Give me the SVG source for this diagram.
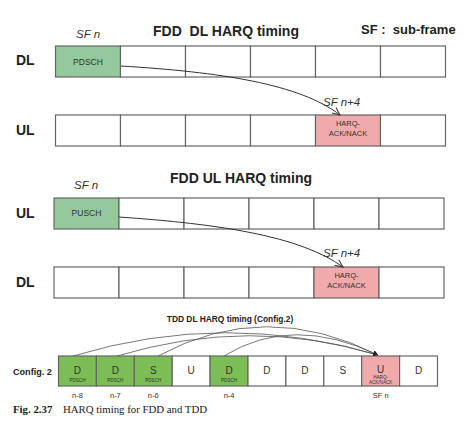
<svg xmlns="http://www.w3.org/2000/svg" width="468" height="438" viewBox="0 0 468 438">
<defs>
<style>
.cell{fill:#ffffff;stroke:#666;stroke-width:1.2}
.g1{fill:#94c99b;stroke:#666;stroke-width:1.2}
.g2{fill:#7cbd55;stroke:#666;stroke-width:1.2}
.pk{fill:#f0aaab;stroke:#666;stroke-width:1.2}
.lbl{font-family:"Liberation Sans",Arial,sans-serif;font-weight:bold;font-size:14px;fill:#222}
.ttl{font-family:"Liberation Sans",Arial,sans-serif;font-weight:bold;font-size:14px;fill:#222;white-space:pre}
.sf{font-family:"Liberation Sans",Arial,sans-serif;font-style:italic;font-size:11.5px;fill:#333}
.ct{font-family:"Liberation Sans",Arial,sans-serif;font-size:8.5px;fill:#333;text-anchor:middle}
.hq{font-family:"Liberation Sans",Arial,sans-serif;font-size:7.5px;fill:#333;text-anchor:middle}
.cl{font-family:"Liberation Sans",Arial,sans-serif;font-size:10px;fill:#333;text-anchor:middle}
.tiny{font-family:"Liberation Sans",Arial,sans-serif;font-size:4.6px;fill:#333;text-anchor:middle}
.nl{font-family:"Liberation Sans",Arial,sans-serif;font-size:7.5px;fill:#333;text-anchor:middle}
.conn{fill:none;stroke:#333;stroke-width:1}
.conn2{fill:none;stroke:#555;stroke-width:0.8}
.cap{font-family:"Liberation Serif","Times New Roman",serif;font-size:10.8px;fill:#222}
</style>
<marker id="ah" markerWidth="9" markerHeight="8" refX="8" refY="4" orient="auto" markerUnits="userSpaceOnUse">
<path d="M0,0.5 L8,4 L0,7.5" fill="none" stroke="#333" stroke-width="1"/>
</marker>
<marker id="ah2" markerWidth="6" markerHeight="5" refX="5" refY="2.5" orient="auto" markerUnits="userSpaceOnUse">
<path d="M0,0 L5,2.5 L0,5 Z" fill="#222"/>
</marker>
</defs>
<rect width="468" height="438" fill="#ffffff"/>

<!-- FDD DL section -->
<text class="ttl" x="153" y="35.5" xml:space="preserve">FDD  DL HARQ timing</text>
<text class="ttl" x="361" y="34" style="font-size:13px" xml:space="preserve">SF :  sub-frame</text>
<text class="sf" x="76" y="37.5">SF n</text>
<text class="lbl" x="16" y="65">DL</text>
<text class="lbl" x="16" y="135">UL</text>

<g id="fdd-dl-row1">
<g id="dl1-c0"><rect class="g1" x="55.5" y="46" width="65" height="31"/><text class="ct" x="88" y="65.3">PDSCH</text></g>
<g id="dl1-c1"><rect class="cell" x="120.5" y="46" width="65" height="31"/></g>
<g id="dl1-c2"><rect class="cell" x="185.5" y="46" width="65" height="31"/></g>
<g id="dl1-c3"><rect class="cell" x="250.5" y="46" width="65" height="31"/></g>
<g id="dl1-c4"><rect class="cell" x="315.5" y="46" width="65" height="31"/></g>
<g id="dl1-c5"><rect class="cell" x="380.5" y="46" width="65" height="31"/></g>
</g>
<g id="fdd-dl-row2">
<g id="ul1-c0"><rect class="cell" x="55.5" y="115" width="65" height="31"/></g>
<g id="ul1-c1"><rect class="cell" x="120.5" y="115" width="65" height="31"/></g>
<g id="ul1-c2"><rect class="cell" x="185.5" y="115" width="65" height="31"/></g>
<g id="ul1-c3"><rect class="cell" x="250.5" y="115" width="65" height="31"/></g>
<g id="ul1-c4"><rect class="pk" x="315.5" y="115" width="65" height="31"/><text class="hq" x="348" y="126">HARQ-</text><text class="hq" x="348" y="136">ACK/NACK</text></g>
<g id="ul1-c5"><rect class="cell" x="380.5" y="115" width="65" height="31"/></g>
</g>
<text class="sf" x="323" y="105.5">SF n+4</text>

<!-- FDD UL section -->
<text class="ttl" x="170" y="182.5">FDD UL HARQ timing</text>
<text class="sf" x="74" y="189">SF n</text>
<text class="lbl" x="16" y="218">UL</text>
<text class="lbl" x="16" y="287">DL</text>

<g id="fdd-ul-row1">
<g id="ul2-c0"><rect class="g1" x="54" y="198" width="65" height="31"/><text class="ct" x="86.5" y="216.3">PUSCH</text></g>
<g id="ul2-c1"><rect class="cell" x="119" y="198" width="65" height="31"/></g>
<g id="ul2-c2"><rect class="cell" x="184" y="198" width="65" height="31"/></g>
<g id="ul2-c3"><rect class="cell" x="249" y="198" width="65" height="31"/></g>
<g id="ul2-c4"><rect class="cell" x="314" y="198" width="65" height="31"/></g>
<g id="ul2-c5"><rect class="cell" x="379" y="198" width="65" height="31"/></g>
</g>
<g id="fdd-ul-row2">
<g id="dl2-c0"><rect class="cell" x="54" y="267" width="65" height="31"/></g>
<g id="dl2-c1"><rect class="cell" x="119" y="267" width="65" height="31"/></g>
<g id="dl2-c2"><rect class="cell" x="184" y="267" width="65" height="31"/></g>
<g id="dl2-c3"><rect class="cell" x="249" y="267" width="65" height="31"/></g>
<g id="dl2-c4"><rect class="pk" x="314" y="267" width="65" height="31"/><text class="hq" x="346.5" y="278">HARQ-</text><text class="hq" x="346.5" y="288">ACK/NACK</text></g>
<g id="dl2-c5"><rect class="cell" x="379" y="267" width="65" height="31"/></g>
</g>
<text class="sf" x="323" y="257">SF n+4</text>

<!-- TDD section -->
<text class="ttl" x="230" y="322" style="font-size:8.4px" text-anchor="middle">TDD DL HARQ timing (Config.2)</text>
<text class="lbl" x="13" y="374.5" style="font-size:9.1px">Config. 2</text>

<g id="tdd-row">
<g id="t0"><rect class="g2" x="58.5" y="356" width="37.9" height="30"/><text class="cl" x="77.45" y="374">D</text><text class="tiny" x="77.45" y="382">PDSCH</text></g>
<g id="t1"><rect class="g2" x="96.4" y="356" width="37.9" height="30"/><text class="cl" x="115.35" y="374">D</text><text class="tiny" x="115.35" y="382">PDSCH</text></g>
<g id="t2"><rect class="g2" x="134.3" y="356" width="37.9" height="30"/><text class="cl" x="153.25" y="374">S</text><text class="tiny" x="153.25" y="382">PDSCH</text></g>
<g id="t3"><rect class="cell" x="172.2" y="356" width="37.9" height="30"/><text class="cl" x="191.15" y="374">U</text></g>
<g id="t4"><rect class="g2" x="210.1" y="356" width="37.9" height="30"/><text class="cl" x="229.05" y="374">D</text><text class="tiny" x="229.05" y="382">PDSCH</text></g>
<g id="t5"><rect class="cell" x="248" y="356" width="37.9" height="30"/><text class="cl" x="266.95" y="374">D</text></g>
<g id="t6"><rect class="cell" x="285.9" y="356" width="37.9" height="30"/><text class="cl" x="304.85" y="374">D</text></g>
<g id="t7"><rect class="cell" x="323.8" y="356" width="37.9" height="30"/><text class="cl" x="342.75" y="374">S</text></g>
<g id="t8"><rect class="pk" x="361.7" y="356" width="37.9" height="30"/><text class="cl" x="380.65" y="373">U</text><text class="tiny" x="380.65" y="378.5">HARQ-</text><text class="tiny" x="380.65" y="384">ACK/NACK</text></g>
<g id="t9"><rect class="cell" x="399.6" y="356" width="37.9" height="30"/><text class="cl" x="418.55" y="374">D</text></g>
</g>
<text class="nl" x="77.45" y="398">n-8</text>
<text class="nl" x="115.35" y="398">n-7</text>
<text class="nl" x="153.25" y="398">n-6</text>
<text class="nl" x="229.05" y="398">n-4</text>
<text class="nl" x="380.65" y="398">SF n</text>

<!-- connectors -->
<g id="connectors">
<path class="conn" d="M121,66 C220,72 300,84 340,115" marker-end="url(#ah)"/>
<path class="conn" d="M119,217 C220,224 300,236 343,267" marker-end="url(#ah)"/>
<path class="conn2" d="M73,356 Q225,310 378,355" marker-end="url(#ah2)"/>
<path class="conn2" d="M117,356 Q250,316 378,355" marker-end="url(#ah2)"/>
<path class="conn2" d="M158,356 Q265,298 378,355" marker-end="url(#ah2)"/>
<path class="conn2" d="M224,356 Q292,314 378,355" marker-end="url(#ah2)"/>
</g>

<text class="cap" x="13" y="412.5"><tspan font-weight="bold">Fig. 2.37</tspan><tspan x="63">HARQ timing for FDD and TDD</tspan></text>
</svg>
